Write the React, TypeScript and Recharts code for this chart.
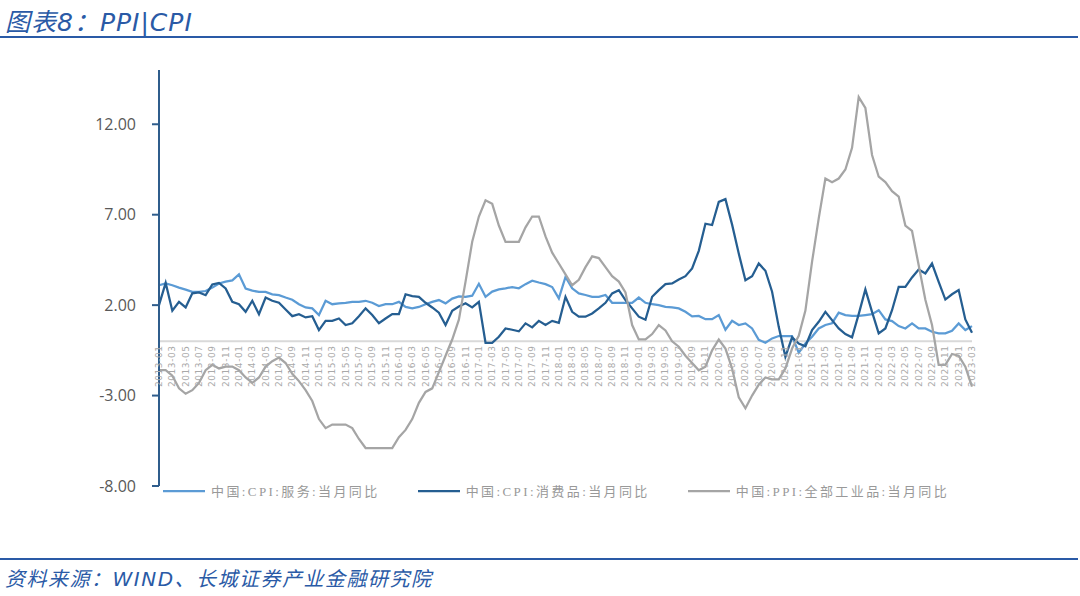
import { LineChart, Line, XAxis, YAxis, ReferenceLine, Legend } from "recharts";

// monthly labels 2013-01 .. 2023-03
const months: string[] = [];
for (let y = 2013; y <= 2023; y++) {
  for (let m = 1; m <= 12; m++) {
    if (y === 2023 && m > 3) break;
    months.push(`${y}-${String(m).padStart(2, "0")}`);
  }
}

const cpiServices = [
  3.1, 3.2, 3.1, 2.97, 2.86, 2.73, 2.73, 2.78, 2.97, 3.2, 3.3, 3.37,
  3.7, 2.92, 2.8, 2.73, 2.73, 2.6, 2.55, 2.42, 2.3, 2.05, 1.87, 1.82,
  1.45, 2.24, 2.05, 2.1, 2.13, 2.18, 2.18, 2.24, 2.13, 1.95, 2.05, 2.05,
  2.18, 1.9, 1.82, 1.9, 2.05, 2.18, 2.28, 2.1, 2.36, 2.48, 2.46, 2.52,
  3.18, 2.46, 2.75, 2.87, 2.93, 3.0, 2.93, 3.16, 3.35, 3.25, 3.16, 3.0,
  2.37, 3.56, 2.93, 2.65, 2.56, 2.46, 2.46, 2.56, 2.13, 2.13, 2.13, 2.13,
  2.42, 2.13, 2.05, 2.0, 1.9, 1.87, 1.82, 1.63, 1.38, 1.4, 1.22, 1.22,
  1.45, 0.64, 1.13, 0.9, 0.99, 0.71, 0.08, -0.08, 0.16, 0.29, 0.29, 0.29,
  -0.63, -0.12, 0.25, 0.71, 0.9, 1.0, 1.58, 1.45, 1.4, 1.4, 1.45, 1.5,
  1.72, 1.21, 1.12, 0.84, 0.71, 0.99, 0.71, 0.71, 0.53, 0.44, 0.44, 0.58,
  0.99, 0.62, 0.84,
];

const cpiGoods = [
  2.0, 3.23, 1.69, 2.18, 1.87, 2.65, 2.7, 2.55, 3.14, 3.23, 2.92, 2.18,
  2.05, 1.63, 2.24, 1.5, 2.42, 2.24, 2.13, 1.76, 1.39, 1.5, 1.32, 1.39,
  0.62, 1.13, 1.13, 1.26, 0.9, 1.0, 1.39, 1.82, 1.45, 1.0, 1.26, 1.5,
  1.5, 2.6, 2.5, 2.46, 2.13, 1.87, 1.58, 0.9, 1.69, 1.92, 2.1, 1.87,
  2.18, -0.08, -0.08, 0.25, 0.71, 0.64, 0.55, 0.99, 0.77, 1.13, 0.9, 1.13,
  1.02, 2.46, 1.63, 1.36, 1.36, 1.54, 1.82, 2.13, 2.65, 2.83, 2.28, 1.82,
  1.36, 1.19, 2.46, 2.83, 3.16, 3.2, 3.42, 3.6, 4.03, 5.0, 6.5, 6.43,
  7.71, 7.86, 6.45, 4.85, 3.38, 3.6, 4.3, 3.9, 2.74, 0.8, -0.86, 0.22,
  -0.12, -0.27, 0.62, 1.08, 1.63, 1.17, 0.71, 0.4, 0.22, 1.5, 2.87, 1.63,
  0.44, 0.71, 1.72, 3.01, 3.01, 3.53, 3.97, 3.75, 4.3, 3.29, 2.31, 2.6,
  2.83, 1.21, 0.47,
];

const ppi = [
  -1.6, -1.6, -1.9, -2.6, -2.9, -2.7, -2.3, -1.6, -1.3, -1.5, -1.4, -1.4,
  -1.6, -2.0, -2.3, -2.0, -1.4, -1.1, -0.9, -1.2, -1.8, -2.2, -2.7, -3.3,
  -4.3, -4.8, -4.6, -4.6, -4.6, -4.8, -5.4, -5.9, -5.9, -5.9, -5.9, -5.9,
  -5.3, -4.9, -4.3, -3.4, -2.8, -2.6, -1.7, -0.8, 0.1, 1.2, 3.3, 5.5,
  6.9, 7.8, 7.6, 6.4, 5.5, 5.5, 5.5, 6.3, 6.9, 6.9, 5.8, 4.9,
  4.3, 3.7, 3.1, 3.4, 4.1, 4.7, 4.6, 4.1, 3.6, 3.3, 2.7, 0.9,
  0.1, 0.1, 0.4, 0.9, 0.6, 0.0, -0.3, -0.8, -1.2, -1.6, -1.4, -0.5,
  0.1, -0.4, -1.5, -3.1, -3.7, -3.0, -2.4, -2.0, -2.1, -2.1, -1.5, -0.4,
  0.3, 1.7, 4.4, 6.8, 9.0, 8.8, 9.0, 9.5, 10.7, 13.5, 12.9, 10.3,
  9.1, 8.8, 8.3, 8.0, 6.4, 6.1, 4.2, 2.3, 0.9, -1.3, -1.3, -0.7,
  -0.8, -1.4, -2.5,
];

const seriesNames = [
  "中国:CPI:服务:当月同比",
  "中国:CPI:消费品:当月同比",
  "中国:PPI:全部工业品:当月同比",
];
const yTicks = [-8, -3, 2, 7, 12];

const data = months.map((m, i) => ({
  month: m,
  services: cpiServices[i],
  goods: cpiGoods[i],
  ppi: ppi[i],
}));

const Y_MIN = -8;
const Y_MAX = 15;
const PLOT_TOP = 70;
const PLOT_BOTTOM = 486;
const ZERO_Y = PLOT_TOP + ((Y_MAX - 0) / (Y_MAX - Y_MIN)) * (PLOT_BOTTOM - PLOT_TOP);

const BLUE = "#2a5aa6";
const CJK = '"Noto Sans CJK SC", sans-serif';

function MonthTick(props: any) {
  const { x, payload } = props;
  return (
    <text
      transform={`translate(${x + 3},${ZERO_Y + 4}) rotate(-90)`}
      textAnchor="end"
      fontSize={9}
      letterSpacing={0.6}
      fill="#a9a9a9"
      fontFamily="DejaVu Sans, sans-serif"
    >
      {payload.value}
    </text>
  );
}

function LegendBox(props: any) {
  const { payload } = props;
  return (
    <div style={{ display: "flex", gap: 38 }}>
      {(payload || []).map((p: any) => (
        <div key={p.value} style={{ display: "flex", alignItems: "center" }}>
          <svg width={42} height={4}>
            <line x1={0} y1={2} x2={42} y2={2} stroke={p.color} strokeWidth={2.25} />
          </svg>
          <span
            style={{
              marginLeft: 6,
              fontSize: 13,
              color: "#999999",
              letterSpacing: 2.4,
              fontFamily: `"Liberation Serif", ${CJK}`,
              whiteSpace: "nowrap",
            }}
          >
            {p.value}
          </span>
        </div>
      ))}
    </div>
  );
}

export default function App() {
  return (
    <div
      style={{
        position: "absolute",
        left: 0,
        top: 0,
        width: 1080,
        height: 596,
        background: "#fff",
        overflow: "hidden",
      }}
    >
      <div
        style={{
          position: "absolute",
          left: 5,
          top: 2,
          fontSize: 25,
          fontStyle: "italic",
          color: BLUE,
          fontFamily: `"DejaVu Sans", ${CJK}`,
          letterSpacing: 1,
        }}
      >
        图表8：PPI|CPI
      </div>
      <div style={{ position: "absolute", left: 0, top: 36, width: 1078, height: 2, background: BLUE }} />

      <LineChart
        width={1080}
        height={596}
        data={data}
        margin={{ top: PLOT_TOP, right: 108, left: 99, bottom: 90 }}
        style={{ position: "absolute", left: 0, top: 0 }}
      >
        <XAxis
          dataKey="month"
          interval={1}
          axisLine={false}
          tickLine={false}
          height={10}
          tick={<MonthTick />}
        />
        <YAxis
          domain={[Y_MIN, Y_MAX]}
          ticks={yTicks}
          width={60}
          allowDataOverflow
          axisLine={{ stroke: "#2f5d8c", strokeWidth: 2 }}
          tickLine={{ stroke: "#2f5d8c", strokeWidth: 2 }}
          tickSize={7}
          tickMargin={16}
          tickFormatter={(v: number) => v.toFixed(2)}
          tick={{ fill: "#595959", fontSize: 16, fontFamily: "Open Sans, sans-serif" }}
        />
        <ReferenceLine y={0} stroke="#d9d9d9" strokeWidth={2} />
        <Legend
          height={10}
          verticalAlign="bottom"
          content={<LegendBox />}
          wrapperStyle={{ top: 481, left: 163, bottom: "auto", width: 900 }}
        />
        <Line
          type="linear"
          dataKey="services"
          name={seriesNames[0]}
          stroke="#5b9bd5"
          strokeWidth={2.25}
          dot={false}
          isAnimationActive={false}
        />
        <Line
          type="linear"
          dataKey="goods"
          name={seriesNames[1]}
          stroke="#255e91"
          strokeWidth={2.25}
          dot={false}
          isAnimationActive={false}
        />
        <Line
          type="linear"
          dataKey="ppi"
          name={seriesNames[2]}
          stroke="#a5a5a5"
          strokeWidth={2.25}
          dot={false}
          isAnimationActive={false}
        />
      </LineChart>

      <div style={{ position: "absolute", left: 0, top: 558, width: 1078, height: 2, background: BLUE }} />
      <div
        style={{
          position: "absolute",
          left: 5,
          top: 563,
          fontSize: 20,
          fontStyle: "italic",
          color: BLUE,
          fontFamily: `"DejaVu Sans", ${CJK}`,
          letterSpacing: 1.5,
          whiteSpace: "nowrap",
        }}
      >
        资料来源：WIND、长城证券产业金融研究院
      </div>
    </div>
  );
}
